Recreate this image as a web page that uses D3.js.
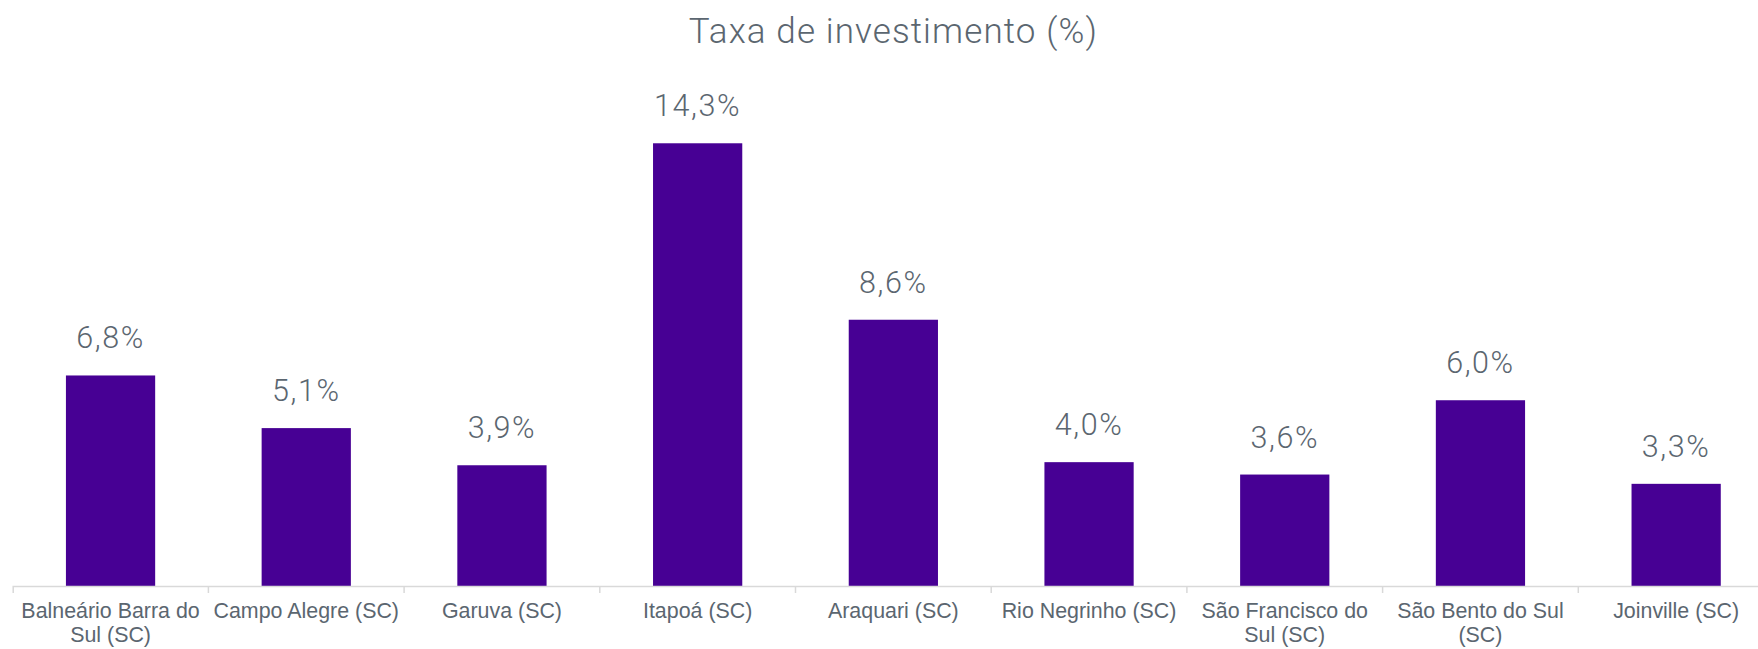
<!DOCTYPE html>
<html>
<head>
<meta charset="utf-8">
<script src="https://cdn.jsdelivr.net/npm/d3@7"></script>
<style>
  body { margin: 0; background: #fff; }
  .value-label { font-family: Roboto, sans-serif; font-weight: 300; font-size: 30.5px; letter-spacing: 1.6px; fill: #5b6670; }
  .title { font-family: Roboto, sans-serif; font-weight: 300; font-size: 35px; letter-spacing: 1.1px; fill: #5b6670; }
  .cat-label { font-family: "Liberation Sans", Arial, sans-serif; font-size: 21.4px; fill: #5b6670; }
</style>
</head>
<body>
<svg id="chart"></svg>
<script>
// Dữ liệu
const categories = [
    "Balneário Barra do Sul (SC)", "Campo Alegre (SC)", "Garuva (SC)", "Itapoá (SC)",
    "Araquari (SC)", "Rio Negrinho (SC)", "São Francisco do Sul (SC)", "São Bento do Sul (SC)", "Joinville (SC)"
];
const values = [6.8, 5.1, 3.9, 14.3, 8.6, 4.0, 3.6, 6.0, 3.3];
const valueLabels = ["6,8%", "5,1%", "3,9%", "14,3%", "8,6%", "4,0%", "3,6%", "6,0%", "3,3%"];
const title = "Taxa de investimento (%)";

const width = 1758;
const height = 649;
const margin = { left: 12.7, baseline: 586 };
const step = 195.7;

const svg = d3.select("#chart")
    .attr("width", width)
    .attr("height", height);

const data = categories.map((c, i) => ({ cat: c, value: values[i], label: valueLabels[i] }));

// Scale X (band, nhóm rộng bằng nhau)
const x = d3.scaleBand()
    .domain(categories)
    .range([margin.left, margin.left + step * categories.length])
    .paddingInner(0.544)
    .paddingOuter(0.272);

// Scale Y
const y = d3.scaleLinear()
    .domain([0, 16])
    .range([margin.baseline, margin.baseline - 16 * 30.96]);

// Tiêu đề
svg.append("text")
    .attr("class", "title")
    .attr("x", (x.range()[0] + x.range()[1]) / 2)
    .attr("y", 43)
    .attr("text-anchor", "middle")
    .text(title);

// Cột
svg.selectAll(".bar")
    .data(data)
    .enter()
    .append("rect")
    .attr("class", "bar")
    .attr("x", d => x(d.cat))
    .attr("y", d => y(d.value))
    .attr("width", x.bandwidth())
    .attr("height", d => y(0) - y(d.value))
    .attr("fill", "#470094");

// Nhãn giá trị
svg.selectAll(".value-label")
    .data(data)
    .enter()
    .append("text")
    .attr("class", "value-label")
    .attr("x", d => x(d.cat) + x.bandwidth() / 2)
    .attr("y", d => y(d.value) - 27)
    .attr("text-anchor", "middle")
    .text(d => d.label);

// Trục X
const xAxis = svg.append("g")
    .attr("transform", `translate(0,${margin.baseline})`)
    .call(d3.axisBottom(x).tickSize(0).tickSizeOuter(7).tickPadding(0));

xAxis.select(".domain")
    .attr("stroke", "#d9d9d9")
    .attr("stroke-width", 1.5);

// Vạch chia giữa các nhóm
xAxis.selectAll(".sep")
    .data(d3.range(1, categories.length))
    .enter()
    .append("line")
    .attr("x1", i => x.range()[0] + i * x.step())
    .attr("x2", i => x.range()[0] + i * x.step())
    .attr("y1", 0)
    .attr("y2", 7)
    .attr("stroke", "#d9d9d9")
    .attr("stroke-width", 1.5);

// Nhãn danh mục (xuống dòng khi quá dài)
xAxis.selectAll(".tick text")
    .attr("class", "cat-label")
    .attr("fill", null)
    .attr("font-size", null)
    .attr("font-family", null)
    .attr("dy", null)
    .attr("y", 32)
    .each(function () {
        const text = d3.select(this);
        const words = text.text().split(/\s+/);
        const maxW = x.step() - 4;
        text.text(null);
        let line = [];
        let lineNo = 0;
        let tspan = text.append("tspan").attr("x", 0).attr("y", 32);
        words.forEach(w => {
            line.push(w);
            tspan.text(line.join(" "));
            if (tspan.node().getComputedTextLength() > maxW && line.length > 1) {
                line.pop();
                tspan.text(line.join(" "));
                line = [w];
                lineNo++;
                tspan = text.append("tspan").attr("x", 0).attr("y", 32 + lineNo * 24.4).text(w);
            }
        });
    });
xAxis.attr("font-family", null).attr("font-size", null);
</script>
</body>
</html>
